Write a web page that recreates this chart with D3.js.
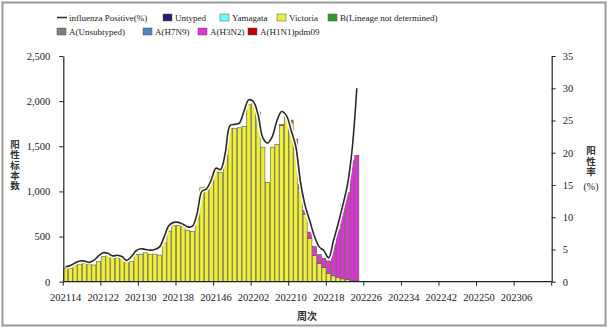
<!DOCTYPE html>
<html><head><meta charset="utf-8">
<script src="https://cdn.jsdelivr.net/npm/d3@7"></script>
<style>
html,body{margin:0;padding:0;background:#fff;}
svg text{font-family:"Liberation Serif","Times New Roman",serif;fill:#222;}
.cjk{font-family:"Noto Sans CJK SC",sans-serif !important;font-weight:700;fill:#333;}
.vert{writing-mode:vertical-rl;text-orientation:upright;}
</style></head>
<body><svg id="c" width="609" height="330"></svg>
<script>
// ---------- data ----------
const years = [2021, 2022, 2023];
const firstWeek = 14;            // 202114
const weeksPerYear = 52;
const lastWeek2023 = 13;         // axis runs to 202313
const tickLabels = ["202114","202122","202130","202138","202146","202202","202210","202218","202226","202234","202242","202250","202306"];
const leftTicks = [0, 500, 1000, 1500, 2000, 2500];
const rightTicks = [0, 5, 10, 15, 20, 25, 30, 35];

const victoria = [150,150,185,195,205,195,185,225,280,305,280,265,275,225,225,300,305,320,305,305,
  295,430,560,620,625,610,570,555,730,1040,1050,1160,1250,1210,1400,1700,1700,1705,1720,1960,
  1985,1880,1490,1100,1490,1520,1730,1825,1765,1545,1035,745,480,290,200,155,90,65,45,32,22,14,8];
const h3n2 = [0,0,0,0,0,0,0,0,0,0,0,0,0,0,0,0,0,0,0,0,
  0,0,0,0,0,0,0,0,0,0,0,0,0,0,0,0,0,0,0,0,
  0,0,0,0,0,0,10,15,25,35,40,45,70,100,100,105,140,355,535,818,968,1326,1392];
const positiveRate = [2.3,2.5,2.9,3.2,3.2,3.0,3.3,4.0,4.5,4.4,4.0,4.1,3.9,3.3,3.9,4.8,5.1,5.0,4.9,5.0,
  5.4,7.0,8.7,9.2,9.2,8.9,8.5,8.6,10.6,14.0,14.4,15.8,17.6,17.4,20.0,24.2,24.4,24.6,26.5,28.2,
  27.9,25.8,22.3,21.5,22.5,25.0,26.4,25.8,23.5,21.0,15.5,11.8,9.4,7.0,5.4,4.8,3.7,6.3,8.9,11.8,15.0,20.5,30.0];

const legendRow1 = ["influenza Positive(%)","Untyped","Yamagata","Victoria","B(Lineage not determined)"];
const legendRow2 = ["A(Unsubtyped)","A(H7N9)","A(H3N2)","A(H1N1)pdm09"];
const colors = {"Untyped":"#2b1b6b","Yamagata":"#66ffff","Victoria":"#eeee3c","B(Lineage not determined)":"#2e9a2e",
  "A(Unsubtyped)":"#7f7f7f","A(H7N9)":"#4a86c8","A(H3N2)":"#dd33dd","A(H1N1)pdm09":"#c00000"};

// categories (weeks)
const weeks = [];
for (let w = firstWeek; w <= weeksPerYear; w++) weeks.push(years[0] + String(w).padStart(2,"0"));
for (let w = 1; w <= weeksPerYear; w++) weeks.push(years[1] + String(w).padStart(2,"0"));
for (let w = 1; w <= lastWeek2023; w++) weeks.push(years[2] + String(w).padStart(2,"0"));

// ---------- chart ----------
const svg = d3.select("#c");
svg.append("rect").attr("x",2.5).attr("y",2.5).attr("width",603).attr("height",323)
  .attr("fill","#fff").attr("stroke","#9a9a9a").attr("stroke-width",2);

const L = 63.3, R = 551.7, T = 56, B = 281.7;
const x = d3.scaleBand().domain(weeks).range([L, R]).padding(0);
const yL = d3.scaleLinear().domain([0, 2500]).range([B, T]);
const yR = d3.scaleLinear().domain([0, 35]).range([B, T]);
const bw = x.bandwidth();

const rows = victoria.map((v,i)=>({week:weeks[i], Victoria:v, "A(H3N2)":h3n2[i]}));
const stack = d3.stack().keys(["Victoria","A(H3N2)"])(rows);
svg.append("g").selectAll("g").data(stack).join("g")
  .attr("fill", s => colors[s.key])
  .selectAll("rect").data(s => s.filter(d => d[1] - d[0] > 0)).join("rect")
  .attr("x", d => x(d.data.week) + 0.3)
  .attr("width", bw - 0.6)
  .attr("y", d => yL(d[1]))
  .attr("height", d => yL(d[0]) - yL(d[1]))
  .attr("stroke", "#5a5a3a").attr("stroke-width", 0.6);

// line
const line = d3.line().x((d,i)=>x(weeks[i]) + bw/2).y(d=>yR(d)).curve(d3.curveCatmullRom.alpha(0.5));
svg.append("path").datum(positiveRate).attr("d", line).attr("fill","none")
  .attr("stroke","#fff").attr("stroke-width",4.5).attr("stroke-linejoin","round");
svg.append("path").datum(positiveRate).attr("d", line).attr("fill","none")
  .attr("stroke","#2a2a2a").attr("stroke-width",1.6).attr("stroke-linejoin","round");

// axes
const axL = svg.append("g").attr("transform",`translate(${L},0)`)
  .call(d3.axisLeft(yL).tickValues(leftTicks).tickFormat(d3.format(",")).tickSize(4).tickPadding(9).tickSizeOuter(0));
const axR = svg.append("g").attr("transform",`translate(${R},0)`)
  .call(d3.axisRight(yR).tickValues(rightTicks).tickSize(4).tickPadding(7).tickSizeOuter(0));
const axB = svg.append("g").attr("transform",`translate(0,${B})`)
  .call(d3.axisBottom(x).tickValues(tickLabels).tickSize(0).tickPadding(12).tickSizeOuter(0));
axB.select(".domain").attr("d",`M${L},0H${R}`);
axB.selectAll(".tick").append("line").attr("x1",-bw/2).attr("x2",-bw/2).attr("y1",0).attr("y2",4).attr("stroke","#222");
axB.append("line").attr("x1",R).attr("x2",R).attr("y1",0).attr("y2",4).attr("stroke","#222");
[axL, axR, axB].forEach(a=>{
  a.selectAll(".domain").attr("stroke","#222").attr("stroke-width",1.2);
  a.selectAll(".tick line").attr("stroke","#222");
  a.selectAll("text").style("font-size","10.5px").attr("fill","#222");
});

// axis titles (vertical CJK)
svg.append("text").attr("class","cjk vert").attr("x",15).attr("y",140)
  .style("font-size","9.5px").style("letter-spacing","0.6px").text("阳性标本数");
svg.append("text").attr("class","cjk vert").attr("x",591).attr("y",146)
  .style("font-size","9.5px").style("letter-spacing","1px").text("阳性率");
svg.append("text").attr("x",591).attr("y",190).attr("text-anchor","middle")
  .style("font-size","10px").text("(%)");
svg.append("text").attr("class","cjk").attr("x",307).attr("y",320).attr("text-anchor","middle")
  .style("font-size","10px").text("周次");

// legend
const lg = svg.append("g").style("font-size","9px");
const r1x = [57, 163, 220, 277, 328];
const r2x = [57, 143, 198, 248];
legendRow1.forEach((name,i)=>{
  if (i === 0) {
    lg.append("line").attr("x1",r1x[i]).attr("x2",r1x[i]+10).attr("y1",17.5).attr("y2",17.5)
      .attr("stroke","#2a2a2a").attr("stroke-width",1.5);
  } else {
    lg.append("rect").attr("x",r1x[i]).attr("y",14).attr("width",9).attr("height",7)
      .attr("fill",colors[name]).attr("stroke","#555").attr("stroke-width",0.5);
  }
  lg.append("text").attr("x",r1x[i]+12).attr("y",21).text(name);
});
legendRow2.forEach((name,i)=>{
  lg.append("rect").attr("x",r2x[i]).attr("y",28).attr("width",9).attr("height",7)
    .attr("fill",colors[name]).attr("stroke","#555").attr("stroke-width",0.5);
  lg.append("text").attr("x",r2x[i]+12).attr("y",35).text(name);
});
</script></body></html>
